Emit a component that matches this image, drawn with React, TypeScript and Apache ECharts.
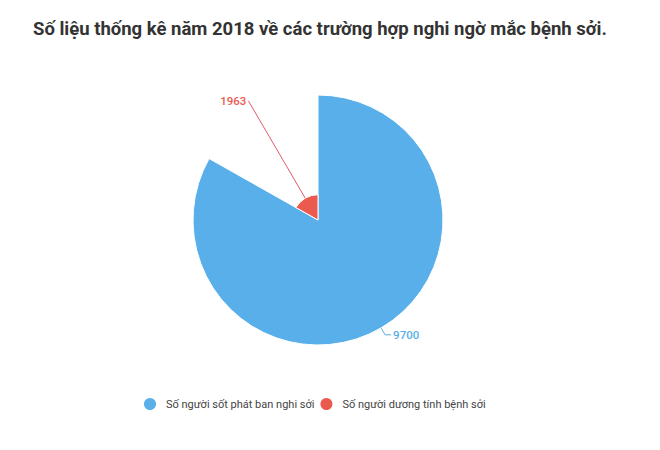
import React, { useEffect, useRef } from "react";
import * as echarts from "echarts";

const titleText = "Số liệu thống kê năm 2018 về các trường hợp nghi ngờ mắc bệnh sởi.";
const categories = ["Số người sốt phát ban nghi sởi", "Số người dương tính bệnh sởi"];
const values = [9700, 1963];
const colors = ["#58AFE9", "#EB5A4F"];

export default function App() {
  const ref = useRef<HTMLDivElement>(null);
  useEffect(() => {
    const chart = echarts.init(ref.current!, null, { renderer: "svg" });
    chart.setOption({
      animation: false,
      color: colors,
      title: {
        text: titleText,
        left: 20,
        top: 6,
        textStyle: { fontFamily: "Roboto", fontWeight: "bold", fontSize: 18.5, color: "#333" },
      },
      legend: {
        bottom: 25,
        left: 129,
        icon: "circle",
        itemWidth: 14,
        itemHeight: 14,
        itemGap: 4,
        data: categories,
        textStyle: { fontFamily: "Roboto", fontSize: 11, color: "#444", padding: [0, 0, 0, 4] },
      },
      series: [
        {
          type: "pie",
          roseType: "radius",
          center: [310, 212],
          radius: [0, 125],
          startAngle: 90,
          clockwise: true,
          avoidLabelOverlap: false,
          itemStyle: { borderColor: "#fff", borderWidth: 1 },
          label: {
            fontFamily: "Roboto",
            fontSize: 11.5,
            fontWeight: 500,
            distanceToLabelLine: 2,
          },
          data: categories.map((name, i) => ({
            name,
            value: values[i],
            label: { color: colors[i], formatter: "{c}" },
            labelLine: {
              length: i === 0 ? 8 : 13,
              length2: i === 0 ? 6 : 0,
              lineStyle: { color: i === 0 ? "#58AFE9" : "#E05A6A", width: 1 },
            },
          })),
        },
      ],
    });
    return () => chart.dispose();
  }, []);
  return <div ref={ref} style={{ width: 644, height: 434 }} />;
}
